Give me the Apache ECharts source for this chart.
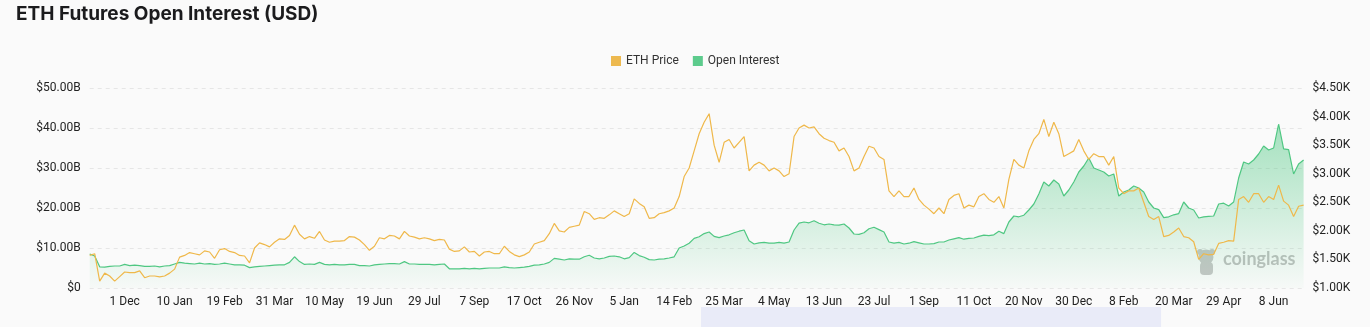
<!DOCTYPE html>
<html>
<head>
<meta charset="utf-8">
<title>ETH Futures Open Interest (USD)</title>
<style>
  html, body { margin: 0; padding: 0; background: #fafafa; }
  #chart { width: 1370px; height: 327px; }
</style>
<script src="https://cdn.jsdelivr.net/npm/echarts@6/dist/echarts.min.js"></script>
</head>
<body>
<div id="chart"></div>
<script>
// Sampling: one point every 4 days, starting 3 Nov 2022
const startDateUTC = Date.UTC(2022, 10, 3);
const stepDays = 4;
const labelEvery = 10;      // one label every 40 days
const firstLabelIndex = 7;  // 1 Dec 2022

// ETH price, USD
const ethPrice = [
  1570,1600,1120,1260,1210,1120,1200,1280,1270,1270,
  1300,1180,1210,1210,1195,1210,1260,1330,1540,1570,
  1620,1600,1580,1650,1630,1520,1670,1690,1640,1620,
  1570,1560,1440,1700,1790,1760,1720,1800,1860,1850,
  1920,2100,1940,1860,1900,1870,1990,1840,1800,1820,
  1820,1830,1900,1890,1840,1760,1660,1730,1880,1860,
  1920,1910,1860,1990,1910,1890,1860,1880,1860,1830,
  1850,1840,1680,1640,1650,1720,1630,1640,1560,1630,
  1640,1600,1600,1730,1640,1580,1550,1580,1630,1770,
  1800,1830,1950,2130,2000,1980,2060,2080,2100,2340,
  2300,2200,2230,2220,2280,2350,2300,2250,2300,2560,
  2480,2420,2220,2230,2300,2320,2350,2400,2600,2950,
  3100,3400,3700,3900,4050,3500,3200,3550,3600,3450,
  3550,3650,3050,3150,3200,3150,3050,3100,3050,2950,
  3000,3650,3800,3850,3800,3820,3700,3620,3580,3550,
  3400,3450,3300,3050,3100,3300,3480,3450,3300,3250,
  2700,2600,2700,2600,2600,2750,2550,2450,2380,2300,
  2400,2300,2550,2620,2650,2400,2450,2420,2600,2650,
  2550,2500,2600,2400,2900,3250,3150,3100,3400,3600,
  3700,3950,3650,3900,3700,3300,3350,3400,3600,3400,
  3250,3350,3300,3300,3150,3300,2750,2650,2700,2700,
  2750,2500,2250,2200,2250,1900,1920,1980,2050,1900,
  1880,1810,1500,1600,1580,1590,1780,1800,1830,1820,
  2550,2600,2500,2650,2650,2500,2600,2550,2800,2520,
  2450,2250,2430,2450
];

// Futures open interest, billions USD
const openInterest = [
  8.5,8.0,5.3,5.2,5.4,5.5,5.5,5.9,5.6,5.7,
  5.6,5.4,5.4,5.5,5.3,5.5,5.6,6.0,6.4,6.2,
  6.1,6.0,6.2,6.0,6.1,5.9,6.0,6.2,6.0,5.8,
  5.8,5.7,5.1,5.3,5.4,5.5,5.6,5.7,5.8,5.8,
  6.4,7.8,6.6,5.9,6.0,5.9,6.4,5.9,5.8,5.9,
  5.8,5.8,5.9,5.9,5.6,5.6,5.5,5.8,5.9,6.0,
  6.1,6.1,6.0,6.6,6.0,6.0,5.9,5.9,5.9,5.8,
  5.9,6.0,4.8,4.8,4.8,4.9,4.8,4.9,4.8,4.9,
  5.0,5.0,5.0,5.3,5.1,5.0,5.1,5.2,5.4,5.7,
  5.8,6.0,6.4,7.4,7.2,7.0,7.3,7.2,7.2,7.8,
  8.2,7.5,7.3,7.5,7.9,8.0,7.8,7.3,7.6,8.9,
  8.1,7.7,7.1,7.0,7.2,7.3,7.5,7.8,10.0,10.5,
  11.2,12.4,12.8,13.6,14.0,12.9,12.6,13.0,13.3,13.8,
  14.2,14.5,11.8,11.0,11.3,11.4,11.2,11.2,11.4,11.2,
  11.5,14.5,16.2,16.5,16.3,16.8,16.2,15.8,16.0,15.8,
  15.7,16.0,15.0,13.5,13.4,13.8,14.8,15.2,14.6,14.0,
  11.5,11.2,11.4,11.0,11.2,11.6,11.3,11.0,11.0,11.1,
  11.5,11.5,12.0,12.3,12.6,12.2,12.4,12.5,12.9,13.2,
  13.1,13.3,14.2,13.6,16.5,18.0,17.8,18.2,19.5,21.0,
  23.5,26.5,25.5,27.0,26.0,23.0,24.5,26.5,29.0,30.5,
  32.5,30.0,29.5,29.0,28.0,28.5,23.0,24.0,24.5,25.5,
  25.0,24.0,21.5,20.0,19.6,17.6,17.8,18.3,18.6,21.5,
  20.0,19.5,17.5,17.8,17.9,18.0,21.0,21.2,20.5,21.5,
  27.5,31.5,31.0,32.0,33.5,35.5,34.5,35.0,41.0,34.8,
  34.6,28.5,31.0,32.0
];

// Axis ranges
const oiAxis = { min: 0, max: 50, interval: 10 };          // billions
const priceAxis = { min: 1000, max: 4500, interval: 500 }; // USD

const monthNames = ['Jan','Feb','Mar','Apr','May','Jun','Jul','Aug','Sep','Oct','Nov','Dec'];
const categories = ethPrice.map((_, i) => {
  const d = new Date(startDateUTC + i * stepDays * 86400000);
  return d.getUTCDate() + ' ' + monthNames[d.getUTCMonth()];
});

const GREEN = '#4fc782';
const YELLOW = '#efb84a';
const FONT = 'Roboto, "Noto Sans", sans-serif';

const chart = echarts.init(document.getElementById('chart'), null, { renderer: 'canvas' });

chart.setOption({
  backgroundColor: '#fafafa',
  animation: false,
  title: {
    text: 'ETH Futures Open Interest (USD)',
    left: 11,
    top: 0,
    textStyle: { fontFamily: 'Inter, sans-serif', fontSize: 19, fontWeight: 'bold', color: '#1b1b1d' }
  },
  legend: {
    data: ['ETH Price', 'Open Interest'],
    left: 606,
    top: 50,
    icon: 'rect',
    itemWidth: 10,
    itemHeight: 10,
    itemGap: 14,
    textStyle: { fontFamily: FONT, fontSize: 12, color: '#333' }
  },
  grid: [
    { left: 89.7, right: 66.4, top: 88, bottom: 39 },
    { left: 89.7, right: 66.4, top: 310, height: 10, show: false }
  ],
  xAxis: [
    {
      type: 'category',
      data: categories,
      boundaryGap: false,
      axisLine: { show: false },
      axisTick: { show: false },
      axisLabel: {
        interval: (idx) => idx >= firstLabelIndex && (idx - firstLabelIndex) % labelEvery === 0,
        fontFamily: FONT,
        fontSize: 12,
        color: '#222',
        margin: 8
      },
      splitLine: { show: false }
    },
    { gridIndex: 1, type: 'value', min: 0, max: 100, show: false }
  ],
  yAxis: [
    {
      type: 'value',
      min: oiAxis.min,
      max: oiAxis.max,
      interval: oiAxis.interval,
      axisLine: { show: false },
      axisTick: { show: false },
      axisLabel: {
        fontFamily: FONT,
        fontSize: 12,
        color: '#222',
        margin: 9,
        formatter: (v) => v === 0 ? '$0' : '$' + v.toFixed(2) + 'B'
      },
      splitLine: { lineStyle: { color: '#e6e6e6', type: [4, 4] } }
    },
    {
      type: 'value',
      position: 'right',
      min: priceAxis.min,
      max: priceAxis.max,
      interval: priceAxis.interval,
      axisLine: { show: false },
      axisTick: { show: false },
      axisLabel: {
        fontFamily: FONT,
        fontSize: 12,
        color: '#222',
        margin: 9,
        formatter: (v) => '$' + (v / 1000).toFixed(2) + 'K'
      },
      splitLine: { show: false }
    },
    { gridIndex: 1, type: 'value', show: false }
  ],
  dataZoom: [
    {
      type: 'slider',
      xAxisIndex: 1,
      start: 50.3,
      end: 88.2,
      left: 89.7,
      right: 66.4,
      top: 307,
      height: 40,
      showDetail: false,
      showDataShadow: false,
      brushSelect: false,
      zoomLock: true,
      backgroundColor: 'rgba(0,0,0,0)',
      borderColor: 'rgba(0,0,0,0)',
      fillerColor: '#e9ebf8',
      handleSize: 0,
      handleStyle: { opacity: 0 },
      moveHandleSize: 0,
      moveHandleStyle: { opacity: 0 }
    }
  ],
  graphic: [
    {
      type: 'group',
      left: 1197,
      top: 249,
      z: 1,
      children: [
        { type: 'circle', shape: { cx: 10, cy: 8, r: 7.5 }, style: { fill: '#c6c6c6' } },
        { type: 'circle', shape: { cx: 4, cy: 3, r: 3 }, style: { fill: '#c6c6c6' } },
        { type: 'circle', shape: { cx: 16, cy: 3, r: 3 }, style: { fill: '#c6c6c6' } },
        { type: 'rect', shape: { x: 4, y: 13, width: 13, height: 13, r: 4 }, style: { fill: '#c6c6c6' } }
      ]
    },
    {
      type: 'text',
      left: 1223,
      top: 250,
      z: 1,
      style: { text: 'coinglass', font: 'bold 18px Lato, sans-serif', fill: '#bfbfbf' }
    }
  ],
  series: [
    {
      name: 'Open Interest',
      type: 'line',
      yAxisIndex: 0,
      data: openInterest,
      showSymbol: false,
      symbol: 'none',
      z: 3,
      lineStyle: { color: GREEN, width: 1.2 },
      itemStyle: { color: '#5ccb8c' },
      areaStyle: {
        color: new echarts.graphic.LinearGradient(0, 0, 0, 1, [
          { offset: 0, color: 'rgba(76,199,128,0.7)' },
          { offset: 1, color: 'rgba(76,199,128,0.03)' }
        ])
      }
    },
    {
      name: 'ETH Price',
      type: 'line',
      yAxisIndex: 1,
      data: ethPrice,
      showSymbol: false,
      symbol: 'none',
      z: 4,
      lineStyle: { color: YELLOW, width: 1.2 },
      itemStyle: { color: '#edb94f' }
    }
  ]
});
</script>
</body>
</html>
